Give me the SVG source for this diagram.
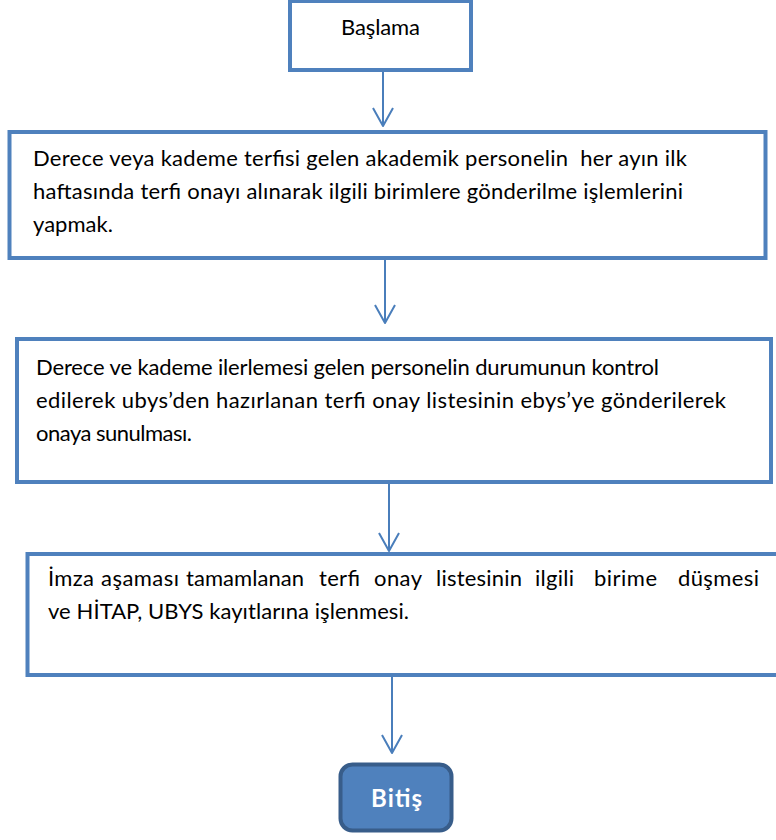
<svg xmlns="http://www.w3.org/2000/svg" width="776" height="840" viewBox="0 0 776 840">
  <style>
    .box { fill: #FFFFFF; stroke: #4F81BD; stroke-width: 4; }
    .end { fill: #4F81BD; stroke: #385D8A; stroke-width: 4; }
    .txt { font-family: Lato, "Liberation Sans", sans-serif; font-size: 22px; fill: #000000; white-space: pre; }
    .endtxt { font-family: Lato, "Liberation Sans", sans-serif; font-size: 24px; font-weight: bold; fill: #FFFFFF; }
    .conn { stroke: #4A7EBB; stroke-width: 2; fill: none; marker-end: url(#vhead); }
  </style>
  <defs>
    <marker id="vhead" markerUnits="userSpaceOnUse" viewBox="-2 -2 24 24" markerWidth="24" markerHeight="24" refX="18" refY="10" orient="auto">
      <path d="M0,0 L18,10 L0,20" fill="none" stroke="#4A7EBB" stroke-width="2" stroke-linejoin="round"/>
    </marker>
  </defs>
  <rect width="776" height="840" fill="#FFFFFF"/>

  <g id="connectors">
    <line class="conn" x1="383" y1="70" x2="383" y2="126"/>
    <line class="conn" x1="385" y1="258" x2="385" y2="323"/>
    <line class="conn" x1="389" y1="482" x2="389" y2="551"/>
    <line class="conn" x1="392" y1="675" x2="392" y2="753"/>
  </g>

  <g id="node-start">
    <rect class="box" x="290" y="1" width="181" height="69"/>
    <text class="txt" x="341" y="35" textLength="79">Başlama</text>
  </g>

  <g id="node-1">
    <rect class="box" x="9.5" y="132" width="756" height="126"/>
    <text class="txt" x="33" y="166" textLength="654">Derece veya kademe terfisi gelen akademik personelin  her ayın ilk</text>
    <text class="txt" x="33" y="199" textLength="650">haftasında terfi onayı alınarak ilgili birimlere gönderilme işlemlerini</text>
    <text class="txt" x="33" y="232" textLength="80">yapmak.</text>
  </g>

  <g id="node-2">
    <rect class="box" x="17" y="339" width="754" height="143"/>
    <text class="txt" x="36" y="375" textLength="623">Derece ve kademe ilerlemesi gelen personelin durumunun kontrol</text>
    <text class="txt" x="36" y="408" textLength="690">edilerek ubys’den hazırlanan terfi onay listesinin ebys’ye gönderilerek</text>
    <text class="txt" x="36" y="441" textLength="156">onaya sunulması.</text>
  </g>

  <g id="node-3">
    <rect class="box" x="27.5" y="554" width="760" height="121"/>
    <text class="txt" y="586"><tspan x="48" textLength="46">İmza</tspan><tspan x="101" textLength="78">aşaması</tspan><tspan x="186" textLength="118">tamamlanan</tspan><tspan x="319" textLength="41">terfi</tspan><tspan x="374" textLength="48">onay</tspan><tspan x="436" textLength="86">listesinin</tspan><tspan x="535" textLength="39">ilgili</tspan><tspan x="594" textLength="63">birime</tspan><tspan x="678" textLength="81">düşmesi</tspan></text>
    <text class="txt" x="48" y="619" textLength="361">ve HİTAP, UBYS kayıtlarına işlenmesi.</text>
  </g>

  <g id="node-end">
    <rect class="end" x="340.5" y="764.5" width="111" height="66" rx="12" ry="12"/>
    <text class="endtxt" x="371" y="807" textLength="51">Bitiş</text>
  </g>
</svg>
